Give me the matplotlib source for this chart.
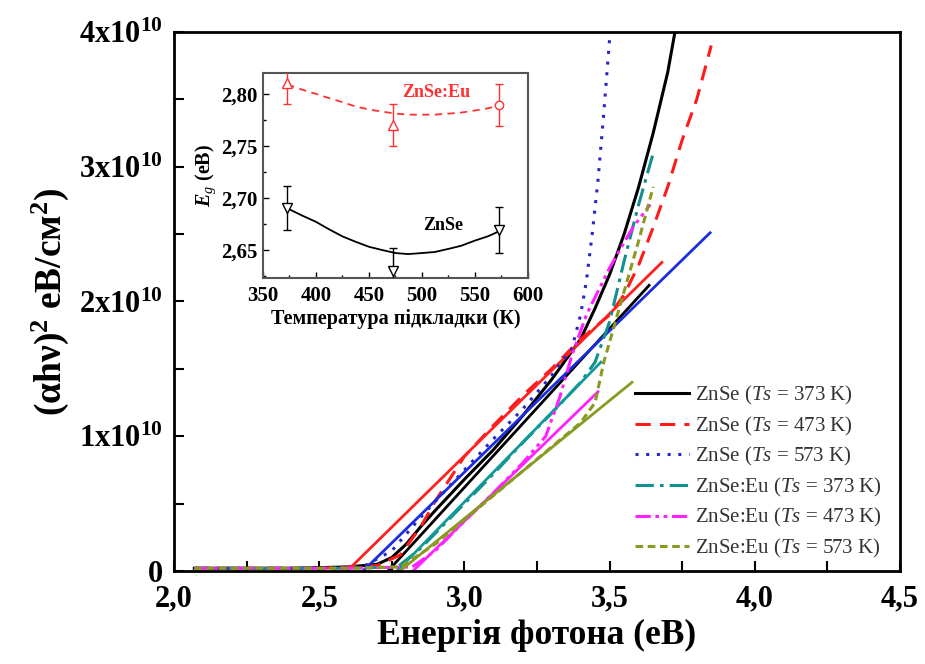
import numpy as np
import matplotlib
matplotlib.use("Agg")
import matplotlib.pyplot as plt
from matplotlib.ticker import MultipleLocator, FuncFormatter

plt.rcParams['font.family'] = ['Liberation Serif', 'DejaVu Serif']
plt.rcParams['mathtext.fontset'] = 'custom'
plt.rcParams['mathtext.rm'] = 'Liberation Serif:bold'
plt.rcParams['mathtext.it'] = 'Liberation Serif:italic'
plt.rcParams['mathtext.bf'] = 'Liberation Serif:italic:bold'

# спектри (αhν)^2, одиниці 1e10
zn373_x = [2.07, 2.4, 2.6, 2.7, 2.75, 2.8, 2.85, 2.9, 3.0, 3.1, 3.2, 3.3, 3.4, 3.45, 3.5, 3.55, 3.6, 3.65, 3.7, 3.725]
zn373_y = [0.02, 0.02, 0.03, 0.05, 0.1, 0.2, 0.33, 0.45, 0.68, 0.9, 1.15, 1.42, 1.72, 1.95, 2.2, 2.5, 2.85, 3.25, 3.7, 4.0]
zn473_x = [2.07, 2.5, 2.7, 2.78, 2.85, 2.9, 3.0, 3.1, 3.2, 3.3, 3.4, 3.5, 3.55, 3.6, 3.65, 3.7, 3.75, 3.8, 3.85]
zn473_y = [0.02, 0.02, 0.04, 0.12, 0.33, 0.52, 0.85, 1.08, 1.3, 1.5, 1.72, 1.9, 2.05, 2.27, 2.55, 2.85, 3.2, 3.5, 3.9]
zn573_x = [2.07, 2.5, 2.65, 2.75, 2.85, 3.0, 3.1, 3.2, 3.3, 3.37, 3.40, 3.42, 3.44, 3.46, 3.48, 3.5]
zn573_y = [0.02, 0.02, 0.03, 0.15, 0.4, 0.75, 0.98, 1.2, 1.45, 1.65, 1.9, 2.15, 2.5, 2.9, 3.4, 3.95]
eu373_x = [2.07, 2.6, 2.77, 2.85, 3.0, 3.1, 3.2, 3.3, 3.4, 3.45, 3.5, 3.55, 3.6, 3.65]
eu373_y = [0.02, 0.02, 0.03, 0.17, 0.5, 0.72, 0.95, 1.17, 1.4, 1.55, 1.85, 2.3, 2.72, 3.1]
eu473_x = [2.07, 2.6, 2.82, 2.9, 3.0, 3.1, 3.2, 3.28, 3.33, 3.37, 3.42, 3.5, 3.58, 3.64]
eu473_y = [0.02, 0.02, 0.03, 0.15, 0.37, 0.58, 0.8, 1.0, 1.3, 1.6, 1.9, 2.25, 2.55, 2.72]
eu573_x = [2.07, 2.6, 2.78, 2.9, 3.0, 3.1, 3.2, 3.3, 3.4, 3.45, 3.48, 3.52, 3.56, 3.6, 3.65]
eu573_y = [0.02, 0.02, 0.03, 0.2, 0.38, 0.56, 0.74, 0.92, 1.1, 1.25, 1.55, 1.85, 2.15, 2.45, 2.85]

# лінійні апроксимації: (x0, x1), (y0, y1)
fit_zn373 = ([2.737, 3.636], [0.0, 2.12])
fit_zn473 = ([2.596, 3.68], [0.0, 2.29])
fit_zn573 = ([2.651, 3.846], [0.0, 2.51])
fit_eu373 = ([2.768, 3.47], [0.0, 1.55])
fit_eu473 = ([2.823, 3.46], [0.0, 1.33])
fit_eu573 = ([2.778, 3.577], [0.0, 1.40])

labels = ['ZnSe ($\\mathit{Ts}$ = 373 K)', 'ZnSe ($\\mathit{Ts}$ = 473 K)', 'ZnSe ($\\mathit{Ts}$ = 573 K)',
          'ZnSe:Eu ($\\mathit{Ts}$ = 373 K)', 'ZnSe:Eu ($\\mathit{Ts}$ = 473 K)', 'ZnSe:Eu ($\\mathit{Ts}$ = 573 K)']

# вставка: Eg від температури підкладки
temps = [373, 473, 573]
eg_znse = [2.69, 2.63, 2.669]
eg_znse_err = [0.021, 0.022, 0.022]
eg_eu = [2.81, 2.77, 2.789]
eg_eu_err = [0.02, 0.02, 0.02]
curve_t = [373, 387, 400, 412, 425, 437, 450, 462, 475, 487, 500, 512, 525, 537, 550, 562, 573]
curve_znse = [2.690, 2.683, 2.677, 2.670, 2.663, 2.658, 2.653, 2.650, 2.647, 2.646, 2.647,
              2.648, 2.651, 2.654, 2.659, 2.663, 2.668]
curve_eu = [2.809, 2.804, 2.800, 2.796, 2.792, 2.788, 2.785, 2.783, 2.781, 2.780, 2.780,
            2.780, 2.781, 2.782, 2.784, 2.786, 2.789]

fig = plt.figure(figsize=(9.25, 6.64), dpi=100)
ax = fig.add_axes([0.1881, 0.1401, 0.7849, 0.8117])

styles = [
    (zn373_x, zn373_y, fit_zn373, 'black', '-'),
    (zn473_x, zn473_y, fit_zn473, '#ff1a1a', (0, (5, 3))),
    (zn573_x, zn573_y, fit_zn573, '#2626c8', (0, (1, 2.5))),
    (eu373_x, eu373_y, fit_eu373, '#119090', (0, (6, 2, 1.2, 2))),
    (eu473_x, eu473_y, fit_eu473, '#ff22ff', (0, (5, 1.5, 1.2, 1.5, 1.2, 1.5))),
    (eu573_x, eu573_y, fit_eu573, '#8a9a20', (0, (2.5, 1.5))),
]
fit_colors = ['black', '#ff2020', '#1a2ee0', '#119999', '#ff22ff', '#8a9a20']

handles = []
for (xs, ys, fit, col, ls), fc, lab in zip(styles, fit_colors, labels):
    h, = ax.plot(np.array(xs), np.array(ys) * 1e10, color=col, ls=ls, lw=2.2, label=lab)
    handles.append(h)
    ax.plot(fit[0], np.array(fit[1]) * 1e10, color=fc, lw=2.0)

ax.set_xlim(2.0, 4.5)
ax.set_ylim(0, 4e10)
ax.xaxis.set_major_locator(MultipleLocator(0.5))
ax.xaxis.set_minor_locator(MultipleLocator(0.25))
ax.yaxis.set_major_locator(MultipleLocator(1e10))
ax.yaxis.set_minor_locator(MultipleLocator(0.5e10))
ax.xaxis.set_major_formatter(FuncFormatter(lambda v, p: f'{v:.1f}'.replace('.', ',')))
ax.yaxis.set_major_formatter(FuncFormatter(
    lambda v, p: '0' if v == 0 else f'{int(round(v / 1e10))}x10$^{{10}}$'))
ax.tick_params(which='both', direction='in', width=1.5, labelsize=22, length=7)
ax.tick_params(axis='x', pad=10)
ax.tick_params(axis='y', pad=8)
for lbl in ax.get_xticklabels() + ax.get_yticklabels():
    lbl.set_fontweight('bold')
for s in ax.spines.values():
    s.set_linewidth(2)

ax.set_xlabel('Енергія фотона (eВ)', fontsize=25.5, fontweight='bold', labelpad=4)
ax.set_ylabel('(αhν)$^{2}$ eB/см$^{2}$)', fontsize=27, fontweight='bold', labelpad=6)

leg = ax.legend(handles=handles, loc='upper left', bbox_to_anchor=(0.623, 0.362),
                frameon=False, fontsize=15, handlelength=2.6, handletextpad=0.3,
                labelspacing=0.36, borderaxespad=0)
for t in leg.get_texts():
    t.set_color('#333333')

# вставка
ins = fig.add_axes([0.2843, 0.5813, 0.2865, 0.3087])
ins.plot(curve_t, curve_eu, color='#ff3030', ls=(0, (4, 3)), lw=1.3)
ins.plot(curve_t, curve_znse, color='black', lw=1.3)
ins.errorbar(temps[:2], eg_eu[:2], yerr=eg_eu_err[:2], fmt='^', mfc='white', mec='#ff3030',
             ecolor='#ff3030', ms=7, capsize=3, elinewidth=1, zorder=3)
ins.errorbar(temps[2:], eg_eu[2:], yerr=eg_eu_err[2:], fmt='o', mfc='white', mec='#ff3030',
             ecolor='#ff3030', ms=6, capsize=3, elinewidth=1, zorder=3)
ins.errorbar(temps, eg_znse, yerr=eg_znse_err, fmt='v', mfc='white', mec='black',
             ecolor='black', ms=7, capsize=3, elinewidth=1, zorder=3)
ins.set_xlim(350, 600)
ins.set_ylim(2.623, 2.820)
ins.xaxis.set_major_locator(MultipleLocator(50))
ins.xaxis.set_minor_locator(MultipleLocator(25))
ins.yaxis.set_major_locator(MultipleLocator(0.05))
ins.yaxis.set_minor_locator(MultipleLocator(0.025))
ins.yaxis.set_major_formatter(FuncFormatter(lambda v, p: f'{v:.2f}'.replace('.', ',')))
ins.tick_params(which='both', direction='in', labelsize=15, width=1, pad=4)
ins.tick_params(axis='x', pad=6)
ins.tick_params(which='major', length=4)
ins.tick_params(which='minor', length=2.5)
for lbl in ins.get_xticklabels() + ins.get_yticklabels():
    lbl.set_fontweight('bold')
for s in ins.spines.values():
    s.set_linewidth(1.5)
    s.set_color('#555555')
ins.set_xlabel('Температура підкладки (К)', fontsize=14.5, fontweight='bold', labelpad=2)
ins.set_ylabel('$\\mathbf{E}_{g}$ (eB)', fontsize=14.5, fontweight='bold', labelpad=2)
ins.text(513, 2.8015, 'ZnSe:Eu', color='#ff3030', fontsize=13, fontweight='bold',
         ha='center', va='center')
ins.text(520, 2.673, 'ZnSe', color='black', fontsize=13, fontweight='bold',
         ha='center', va='center')

fig.savefig('out.png', dpi=100)
